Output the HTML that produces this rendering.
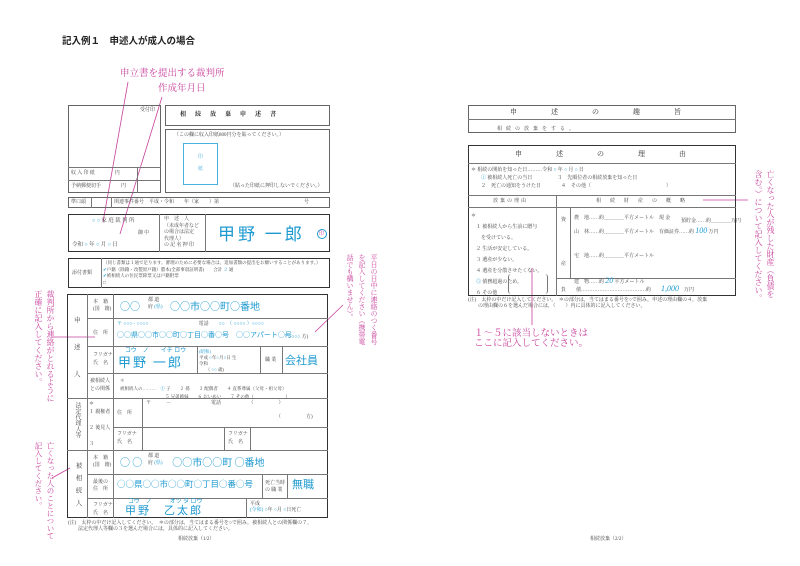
<!DOCTYPE html>
<html><head><meta charset="utf-8">
<style>
*{margin:0;padding:0;box-sizing:border-box}
body{width:800px;height:566px;background:#fff;position:relative;overflow:hidden;font-family:"Liberation Serif","Noto Serif CJK SC","Noto Sans CJK JP",serif;color:#444}
.a{position:absolute}
.b{position:absolute;border:1px solid #666}
.k{position:absolute;border:1.5px solid #333}
.h{position:absolute;height:0;border-top:1px solid #777}
.v{position:absolute;width:0;border-left:1px solid #777}
.t{position:absolute;font-size:5px;white-space:nowrap;line-height:1}
.m{position:absolute;color:#c8409c;font-size:9.5px;white-space:nowrap;line-height:1.1}
.vt{writing-mode:vertical-rl;line-height:12px}
.bl{position:absolute;color:#1e9ad0;white-space:nowrap;line-height:1;font-family:"Noto Sans CJK JP",sans-serif}
.c{position:absolute;border:1px solid #1e9ad0;border-radius:50%}
</style></head><body>
<div class="a" style="left:62px;top:33px;font-size:9.5px;font-weight:bold;color:#222;font-family:'Liberation Sans','Noto Sans CJK JP',sans-serif">記入例１　申述人が成人の場合</div>

<!-- pink annotations -->
<div class="m" style="left:120px;top:69px">申立書を提出する裁判所</div>
<div class="m" style="left:158px;top:84px">作成年月日</div>
<svg class="a" style="left:0;top:0" width="800" height="566">
<g stroke="#c8409c" stroke-width="0.8" fill="none">
<line x1="128" y1="82" x2="103" y2="222"/>
<line x1="162" y1="97" x2="120" y2="234"/>
<line x1="52" y1="337" x2="95" y2="337"/>
<line x1="52" y1="478" x2="70" y2="468"/>
<line x1="343" y1="305" x2="315" y2="332"/>
<line x1="703" y1="200" x2="748" y2="200"/>
<line x1="532" y1="268" x2="532" y2="325"/>
</g></svg>
<div class="m vt" style="left:32px;top:290px;font-size:8px">裁判所から連絡がとれるように<br>正確に記入してください。</div>
<div class="m vt" style="left:32px;top:442px;font-size:7.5px">亡くなった人のことについて<br>記入してください。</div>
<div class="m vt" style="left:344px;top:254px;font-size:7px">平日の日中に連絡のつく番号<br>を記入してください（携帯電<br>話でも構いません）。</div>
<div class="m vt" style="left:752px;top:170px;font-size:8px">亡くなった人が残した財産（負債を<br>含む。）について記入してください。</div>
<div class="m" style="left:474px;top:329px">１～５に該当しないときは<br>ここに記入してください。</div>

<!-- LEFT PAGE -->
<div class="b" style="left:68px;top:105px;width:93px;height:88px"></div>
<div class="t" style="left:140px;top:108px">受付印</div>
<div class="h" style="left:68px;top:167px;width:93px"></div>
<div class="h" style="left:68px;top:180px;width:93px"></div>
<div class="v" style="left:137px;top:167px;height:26px"></div>
<div class="t" style="left:71px;top:171px">収 入 印 紙　　　　円</div>
<div class="t" style="left:71px;top:184px">予納郵便切手　　　　円</div>

<div class="b" style="left:165px;top:105px;width:165px;height:21px"></div>
<div class="t" style="left:180px;top:112px;font-size:6px;font-weight:bold;letter-spacing:9px;color:#222">相続放棄申述書</div>
<div class="b" style="left:165px;top:129px;width:165px;height:64px"></div>
<div class="t" style="left:174px;top:133px">（この欄に収入印紙800円分を貼ってください。）</div>
<div class="a" style="left:183px;top:143px;width:35px;height:42px;border:1px solid #4ab0dc"></div>
<div class="t" style="left:198px;top:155px;color:#4ab0dc">印</div>
<div class="t" style="left:198px;top:167px;color:#4ab0dc">紙</div>
<div class="t" style="left:230px;top:184px">（貼った印紙に押印しないでください。）</div>

<div class="b" style="left:68px;top:197px;width:262px;height:11px"></div>
<div class="v" style="left:91px;top:197px;height:11px"></div>
<div class="v" style="left:111px;top:197px;height:11px"></div>
<div class="t" style="left:71px;top:200px">準口頭</div>
<div class="t" style="left:114px;top:200px">関連事件番号　平成・令和　　年（家　　）第　　　　　　　　　　　　　　　　　号</div>

<div class="k" style="left:68px;top:214px;width:262px;height:38px"></div>
<div class="v" style="left:159px;top:214px;height:38px"></div>
<div class="v" style="left:205px;top:214px;height:38px"></div>
<div class="t" style="left:92px;top:219px;font-size:5.5px"><span style="color:#1e9ad0">○ ○</span> 家 庭 裁 判 所</div>
<div class="t" style="left:138px;top:231px">御 中</div>
<div class="t" style="left:72px;top:243px;font-size:5.5px">令和 <span style="color:#1e9ad0">○</span> 年 <span style="color:#1e9ad0">○</span> 月 <span style="color:#1e9ad0">○</span> 日</div>
<div class="t" style="left:164px;top:217px;line-height:6.5px">申　述　人<br>（未成年者など<br>の場合は法定<br>代理人）<br>の 記 名 押 印</div>
<div class="bl" style="left:218px;top:224px;font-size:17px;letter-spacing:3px">甲野 一郎</div>
<div class="c" style="left:317px;top:229px;width:10px;height:10px"></div>
<div class="t" style="left:319px;top:232px;color:#c8409c">印</div>

<div class="k" style="left:68px;top:258px;width:262px;height:30px"></div>
<div class="v" style="left:101px;top:258px;height:30px"></div>
<div class="t" style="left:72px;top:271px">添付書類</div>
<div class="t" style="left:103px;top:260px;line-height:6.5px;font-size:4.5px">（同じ書類は１通で足ります。審理のために必要な場合は，追加書類の提出をお願いすることがあります。）<br><span style="color:#1e9ad0">✔</span>戸籍（除籍・改製原戸籍）謄本(全部事項証明書)　　合計 <span style="color:#1e9ad0">２</span> 通<br><span style="color:#1e9ad0">✔</span>被相続人の住民票除票又は戸籍附票<br>□</div>

<!-- main table -->
<div class="k" style="left:67px;top:294px;width:261px;height:224px"></div>
<div class="v" style="left:87px;top:294px;height:224px"></div>
<div class="v" style="left:113px;top:294px;height:104px"></div>
<div class="v" style="left:113px;top:450px;height:68px"></div>
<div class="h" style="left:87px;top:318px;width:241px"></div>
<div class="h" style="left:87px;top:346px;width:241px"></div>
<div class="h" style="left:87px;top:373px;width:241px"></div>
<div class="h" style="left:67px;top:398px;width:261px"></div>
<div class="h" style="left:67px;top:450px;width:261px"></div>
<div class="h" style="left:87px;top:474px;width:241px"></div>
<div class="h" style="left:87px;top:498px;width:241px"></div>
<div class="t" style="left:74px;top:318px;font-size:6.5px">申</div>
<div class="t" style="left:74px;top:345px;font-size:6.5px">述</div>
<div class="t" style="left:74px;top:372px;font-size:6.5px">人</div>
<div class="t" style="left:74px;top:402px;font-size:6px;writing-mode:vertical-rl;line-height:1">法定代理人等</div>
<div class="t" style="left:74px;top:462px;font-size:6.5px;writing-mode:vertical-rl;letter-spacing:6px">被相続人</div>
<div class="t" style="left:93px;top:299px;line-height:7px">本　籍<br>(国　籍)</div>
<div class="t" style="left:93px;top:331px">住　所</div>
<div class="t" style="left:93px;top:352px;line-height:8px">フリガナ<br>氏　名</div>
<div class="t" style="left:90px;top:378px;line-height:8px">被相続人<br>との関係</div>
<div class="t" style="left:148px;top:297px;line-height:7px">都 道<br>府 <span style="color:#1e9ad0">(県)</span></div>
<div class="bl" style="left:120px;top:301px;font-size:10px">○○　　　○○市○○町○番地</div>
<div class="t" style="left:117px;top:322px;color:#1e9ad0">〒 ○○○ - ○○○○　　　　　　　　　　<span style="color:#444">電話</span>　　○○　（ ○○○○ ）○○○○</div>
<div class="bl" style="left:117px;top:332px;font-size:7px">○○県○○市○○町○丁目○番○号　○○アパート○号</div>
<div class="t" style="left:282px;top:335px;color:#1e9ad0">（ ○○○○ <span style="color:#444">方)</span></div>
<div class="bl" style="left:125px;top:347px;font-size:6px">コウ　ノ　　イチ ロウ</div>
<div class="bl" style="left:118px;top:355px;font-size:13px;letter-spacing:2px">甲野 一郎</div>
<div class="v" style="left:197px;top:346px;height:27px"></div>
<div class="v" style="left:260px;top:346px;height:27px"></div>
<div class="v" style="left:282px;top:346px;height:27px"></div>
<div class="t" style="left:199px;top:349px;line-height:6px;font-size:4.5px"><span style="color:#1e9ad0">(昭和)</span><br>平成 <span style="color:#1e9ad0">○</span>年<span style="color:#1e9ad0">○</span>月<span style="color:#1e9ad0">○</span>日 生<br>令和<br>　　（ <span style="color:#1e9ad0">○○</span> 歳)</div>
<div class="t" style="left:265px;top:358px">職 業</div>
<div class="bl" style="left:285px;top:355px;font-size:11px">会社員</div>
<div class="t" style="left:120px;top:377px;line-height:8px;font-size:4.5px">＊<br>被相続人の………　<span style="color:#1e9ad0">①</span> 子　　２ 孫　　３ 配偶者　　４ 直系尊属（父母・祖父母）<br>　　　　　　　　　　５ 兄弟姉妹　　６ おいめい　　７ その他（　　　　　　　）</div>
<div class="v" style="left:113px;top:398px;height:52px"></div>
<div class="v" style="left:142px;top:398px;height:52px"></div>
<div class="h" style="left:113px;top:427px;width:215px"></div>
<div class="v" style="left:224px;top:427px;height:23px"></div>
<div class="v" style="left:250px;top:427px;height:23px"></div>
<div class="t" style="left:89px;top:401px;line-height:8px">＊<br>１ 親権者<br><br>２ 後見人<br><br>３</div>
<div class="t" style="left:117px;top:411px">住　所</div>
<div class="t" style="left:146px;top:401px">〒　　　－　　　　　　　　電話　　　　　　（　　　　　）</div>
<div class="t" style="left:276px;top:415px">（　　　　　方)</div>
<div class="t" style="left:117px;top:431px;line-height:8px">フリガナ<br>氏　名</div>
<div class="t" style="left:228px;top:431px;line-height:8px">フリガナ<br>氏　名</div>
<div class="t" style="left:93px;top:455px;line-height:7px">本　籍<br>(国　籍)</div>
<div class="t" style="left:148px;top:453px;line-height:7px">都 道<br>府 <span style="color:#1e9ad0">(県)</span></div>
<div class="bl" style="left:120px;top:457px;font-size:10px">○ ○　　　○○市○○町 ○番地</div>
<div class="t" style="left:93px;top:479px;line-height:7px">最後の<br>住　所</div>
<div class="bl" style="left:117px;top:480px;font-size:8.5px">○○県○○市○○町○丁目○番○号</div>
<div class="v" style="left:262px;top:474px;height:24px"></div>
<div class="v" style="left:287px;top:474px;height:24px"></div>
<div class="t" style="left:265px;top:480px;line-height:7px">死亡当時<br>の 職 業</div>
<div class="bl" style="left:292px;top:479px;font-size:11px">無職</div>
<div class="t" style="left:93px;top:502px;line-height:8px">フリガナ<br>氏　名</div>
<div class="bl" style="left:128px;top:498px;font-size:6px">コウ　ノ　　　オツ タ ロウ</div>
<div class="bl" style="left:125px;top:505px;font-size:11px;letter-spacing:2px">甲野　乙太郎</div>
<div class="v" style="left:246px;top:498px;height:20px"></div>
<div class="t" style="left:250px;top:502px;line-height:6px">平成<br><span style="color:#1e9ad0">(令和)</span> <span style="color:#1e9ad0">○</span>年 <span style="color:#1e9ad0">○</span>月 <span style="color:#1e9ad0">○</span>日死亡</div>
<div class="t" style="left:68px;top:521px;line-height:6px">(注)　太枠の中だけ記入してください。　＊の部分は，当てはまる番号を○で囲み，被相続人との関係欄の７，<br>　　法定代理人等欄の３を選んだ場合には，具体的に記入してください。</div>
<div class="t" style="left:178px;top:537px">相続放棄（1/2）</div>

<!-- RIGHT PAGE -->
<div class="b" style="left:468px;top:105px;width:268px;height:28px"></div>
<div class="h" style="left:468px;top:119px;width:268px"></div>
<div class="t" style="left:510px;top:109px;font-size:7px;letter-spacing:34px;color:#333">申述の趣旨</div>
<div class="t" style="left:497px;top:127px;letter-spacing:4px">相続の放棄をする。</div>

<div class="k" style="left:468px;top:145px;width:268px;height:151px"></div>
<div class="h" style="left:468px;top:163px;width:268px"></div>
<div class="t" style="left:515px;top:151px;font-size:7px;letter-spacing:34px;color:#333">申述の理由</div>
<div class="t" style="left:471px;top:167px;line-height:8px">＊ 相続の開始を知った日………令和 <span style="color:#1e9ad0">○</span> 年 <span style="color:#1e9ad0">○</span> 月 <span style="color:#1e9ad0">○</span> 日<br>　　<span style="color:#1e9ad0">①</span> 被相続人死亡の当日　　　　　３　先順位者の相続放棄を知った日<br>　　２　死亡の通知をうけた日　　　　４　その他（　　　　　　　　　　　　　　　）</div>
<div class="h" style="left:468px;top:195px;width:268px"></div>
<div class="h" style="left:468px;top:207px;width:268px"></div>
<div class="v" style="left:556px;top:195px;height:101px"></div>
<div class="t" style="left:493px;top:199px;letter-spacing:2px">放棄の理由</div>
<div class="t" style="left:596px;top:199px;letter-spacing:9px">相続財産の概略</div>
<div class="t" style="left:471px;top:211px;line-height:11px">＊<br>　１ 被相続人から生前に贈与<br>　　を受けている。<br>　２ 生活が安定している。<br>　３ 遺産が少ない。<br>　４ 遺産を分散させたくない。<br>　<span style="color:#1e9ad0">⑤</span> 債務超過のため。<br>　６ その他</div>
<div class="a" style="left:508px;top:274px;width:40px;height:20px;border:1px solid #777;border-top:none;border-bottom:none;border-radius:3px"></div>
<div class="v" style="left:570px;top:207px;height:71px"></div>
<div class="h" style="left:556px;top:278px;width:180px"></div>
<div class="t" style="left:561px;top:218px">資</div>
<div class="t" style="left:561px;top:262px">産</div>
<div class="t" style="left:574px;top:213px;line-height:12px">農　地……約＿＿＿＿平方メートル　現 金<br>山　林……約＿＿＿＿平方メートル　有価証券……約 <span style="color:#1e9ad0;font-size:8px;font-style:italic">100</span> 万円<br><br>宅　地……約＿＿＿＿平方メートル<br><br>建　物……約 <span style="color:#1e9ad0;font-size:8px;font-style:italic">20</span> 平方メートル</div>
<div class="t" style="left:681px;top:219px">預貯金……約＿＿＿＿万円</div>
<div class="t" style="left:561px;top:285px">負　　債…………………………………約　　<span style="color:#1e9ad0;font-size:8px;font-style:italic">1,000</span>　万円</div>
<div class="t" style="left:468px;top:298px;line-height:6px">(注)　太枠の中だけ記入してください。　＊の部分は，当てはまる番号を○で囲み，申述の理由欄の４，放棄<br>　　の理由欄の６を選んだ場合には，（　　）内に具体的に記入してください。</div>
<div class="t" style="left:590px;top:537px">相続放棄（2/2）</div>
</body></html>
